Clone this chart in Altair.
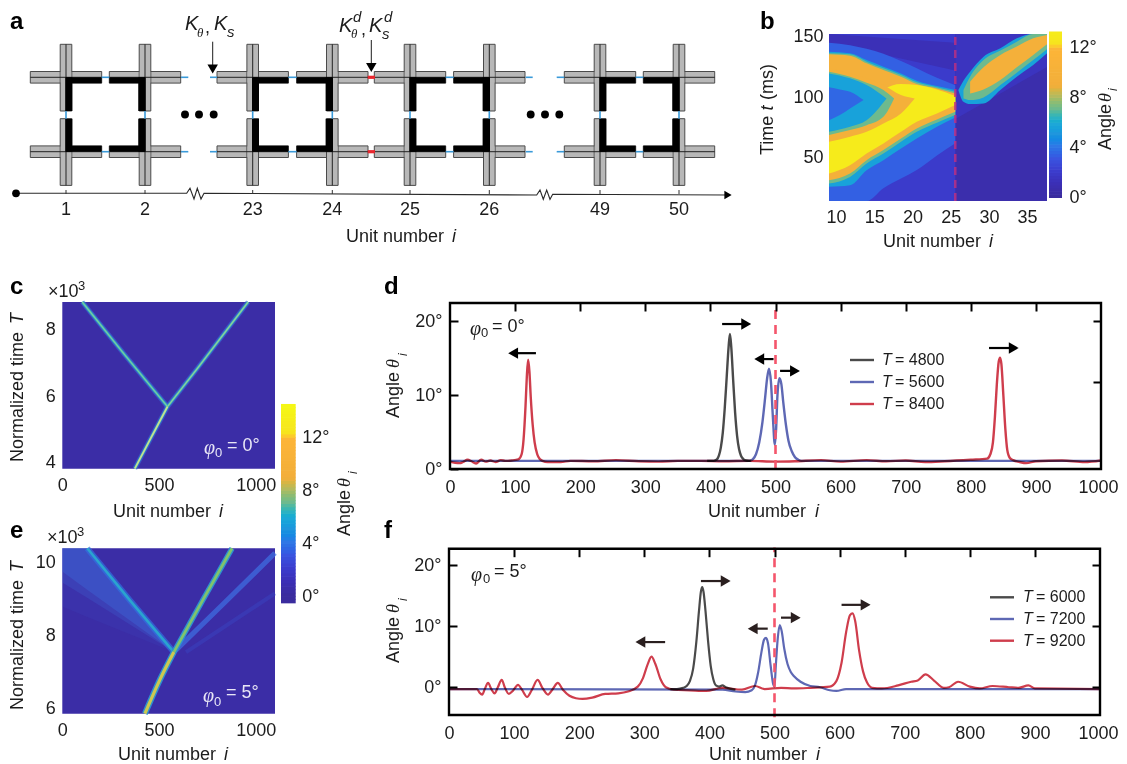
import altair as alt
import pandas as pd

W, H = 1111, 755
SANS = "Liberation Sans"
SERIF = "Liberation Serif"
INK = "#1c1c1c"

# ---------------- colour map ----------------
cmap_values = [0, 1, 2, 3, 4, 5, 5.8, 6.3, 7, 8, 8.8, 11.9, 12.1, 14]
cmap_colors = ["#3a2c9e", "#3b2fb5", "#3b3ccd", "#3a54e0", "#2f78e6", "#2096dd", "#1fa8d8",
               "#30b3c0", "#6dba8e", "#b4ba5e", "#f2ae3a", "#fdb538", "#f6e31f", "#f5f516"]
bar_b_levels = [x * 0.25 for x in range(0, 53)]
bar_c_levels = [x * 0.25 - 0.5 for x in range(0, 60)]

# ---------------- panel a ----------------
units = [1, 2, 23, 24, 25, 26, 49, 50]
unit_x = [66, 145, 252.7, 332.3, 410, 489.3, 600, 679]
row_y = [77.3, 151.7]
stub_x = [(181, 188.3), (210, 217), (525.7, 532.7), (556.7, 564.3)]
red_x = (367.7, 375)
dots_x = [185, 199, 213.7, 530.7, 545, 559.3]
dots_y = [114.5] * 6
axis_x = [16, 186.7, 190, 194, 197.3, 201, 204, 536.7, 540, 543.3, 546.7, 550, 552.7, 728]
axis_y = [193.3, 193.3, 188.3, 199, 188.3, 199, 193.3, 195, 190, 199.3, 190, 199.3, 194.3, 195]

# ---------------- panel b (contour bands) ----------------
b_i = [9.08, 11.83, 14, 16.2, 18.5, 20.56, 23.2, 25.6]
b_bands = [
    (b_i, [14.4, 14.4, 14.4, 25, 33, 40, 52, 62], [145, 143, 140, 136, 130, 124, 116, 110], 3.3),
    (b_i, [26.1, 27.4, 39.8, 48.1, 57.7, 66, 75.6, 83.4], [137.6, 136.3, 130.7, 125.2, 119.7, 113.7, 109.3, 106], 5.5),
    (b_i, [28.8, 34.3, 45.4, 53.6, 63.3, 71.5, 79, 85.3], [136.3, 135.4, 129.4, 123.9, 118.4, 112.3, 108.2, 104.6], 7),
    (b_i, [31.6, 37.1, 48.1, 56.4, 66, 74.3, 81.7, 88.1], [135.4, 134.3, 128, 122.5, 117, 110.9, 107.3, 103.2], 9.5),
    (b_i, [37.1, 44, 53.6, 61.9, 71.5, 79.8, 86.7, 93.6], [89.4, 89.4, 89.4, 106, 110.9, 110.1, 106.5, 101], 13),
    ([9.08, 11.83, 14, 16.2, 18.5, 20.3], [63.2, 67.4, 71.5, 78.4, 86.7, 99], [123.9, 119.7, 115.6, 110.1, 101.8, 99], 9.5),
    ([9.08, 11.83, 14, 16.2, 17.6], [68.8, 72.9, 77, 83.9, 99], [121.1, 117, 112, 106, 99], 7),
    ([9.08, 11.83, 14, 16.6], [71.5, 75.6, 81, 99], [119.7, 115.6, 110.1, 99], 5.5),
    ([9.08, 10.5, 11.83, 13.6], [81, 85.3, 90.8, 97.7], [108.2, 106.5, 104.6, 97.7], 3.5),
    ([26, 26.67, 27.54, 29.3, 31.5, 33.65, 35.8, 37.6], [106, 96.3, 94.4, 94.9, 106, 117, 126.6, 136.3],
     [106, 113.7, 121.1, 133.5, 140.4, 148.6, 152.2, 152.2], 5.5),
    ([26.67, 27.54, 29.3, 31.5, 33.65, 35.8, 37.6], [99, 97.7, 99.9, 110.1, 120.3, 130.7, 139.6],
     [106, 117, 130.7, 138.5, 145.9, 152.2, 152.2], 7),
    ([27.54, 29.3, 31.5, 33.65, 35.8, 37.6], [103.2, 106.5, 114.2, 124.7, 134.9, 143.7],
     [112.8, 124.7, 134.9, 141.8, 148.6, 151.4], 9.5),
]

# ---------------- panel c ----------------
c_low_i = [375, 453, 544]
c_low_T = [3.82, 4.69, 5.69]
c_left_i = [103, 320, 544]
c_left_T = [8.84, 7.27, 5.69]
c_right_i = [544, 700, 961]
c_right_T = [5.69, 6.85, 8.84]

# ---------------- panel e ----------------
e_low_i = [427, 505, 577]
e_low_T = [5.87, 6.8, 7.55]
e_left_i = [129, 350, 577]
e_left_T = [10.38, 8.96, 7.55]
e_right_i = [577, 730, 878]
e_right_T = [7.55, 9.0, 10.38]
e_fan_i = [577, 840, 1100]
e_fan_T = [7.55, 8.9, 10.25]
e_fan2_i = [640, 1100]
e_fan2_T = [7.55, 9.15]
e_wedge_i = [0, 129, 577]
e_wedge_hi = [10.38, 10.38, 7.55]
e_wedge_lo = [[8.79, 8.51, 7.55], [9.45, 9.03, 7.55], [9.75, 9.25, 7.55]]

# ---------------- panel d ----------------
d_black_i = [395, 405, 410, 413, 416, 419, 422, 425, 428, 430, 432, 435, 438, 441, 444, 447, 450, 455, 462]
d_black_v = [1.1, 1.1, 1.3, 1.8, 2.9, 4.9, 8.2, 12.4, 16.6, 18.3, 16.6, 12.0, 7.6, 4.5, 2.7, 1.8, 1.4, 1.15, 1.1]
d_blue_i = [0, 460, 465, 470, 475, 480, 484, 487, 490, 493, 496, 499, 501, 503, 506, 509, 512, 516, 520, 525, 530, 535, 540, 1000]
d_blue_v = [1.1, 1.1, 1.3, 2.0, 3.6, 6.4, 9.6, 12.2, 13.6, 11.8, 7, 3.3, 5.5, 10, 12.3, 11.5, 9, 6, 3.8, 2.4, 1.6, 1.25, 1.1, 1.1]
d_red_i = [0, 8, 15, 20, 27, 33, 40, 48, 55, 62, 70, 78, 85, 95, 105, 110, 113, 116, 118, 120, 122, 124, 127, 130, 134, 138, 142, 150,
           170, 185, 220, 255, 290, 320, 350, 385, 420, 460, 500, 530, 570, 600, 640, 670, 700, 730, 760, 800, 825, 830, 834, 837, 840,
           843, 845, 847, 850, 853, 856, 860, 865, 875, 885, 900, 940, 975, 1000]
d_red_v = [1.0, 0.85, 0.8, 0.95, 1.25, 1.05, 0.75, 1.25, 1.0, 1.15, 0.95, 1.2, 1.1, 1.15, 1.3, 2.0, 4.0, 8.5, 12.5, 14.8, 13.2, 9.8, 6, 3.6, 2.0, 1.35, 1.1, 0.95,
           0.95, 1.1, 1.05, 1.2, 1.05, 1.0, 1.1, 1.1, 1.05, 1.1, 1.0, 1.05, 1.2, 1.0, 1.2, 1.05, 1.15, 0.95, 1.05, 1.25, 1.4, 2.0, 3.6, 7, 11.5,
           14.6, 15.1, 14.2, 10, 5.5, 2.6, 1.5, 1.2, 0.95, 0.8, 1.05, 1.15, 0.95, 1.15]
d_arrows = [(418, 455, 19.65), (132, 97, 15.7), (497, 475, 14.9), (507, 530, 13.3), (828, 866, 16.4)]

# ---------------- panel f ----------------
f_black_i = [340, 350, 360, 365, 370, 375, 380, 384, 387, 389, 391, 394, 398, 402, 406, 410, 415, 420, 425, 440]
f_black_v = [-0.3, -0.3, -0.1, 0.2, 1, 3, 7.5, 12.5, 15.7, 16.4, 15.6, 12.5, 7.5, 3.5, 1.3, 0.3, 0.1, 0.3, 0, -0.4]
f_blue_i = [0, 420, 440, 455, 465, 470, 475, 480, 484, 487, 490, 494, 498, 500, 502, 505, 508, 511, 515, 520, 525, 530, 540, 555, 570, 585, 595, 610, 900, 1000]
f_blue_v = [-0.3, -0.4, -0.7, -0.8, -0.5, 0.3, 2.5, 5.8, 7.8, 8.1, 7.2, 3.6, 0.5, 0.1, 3.5, 8.0, 10.2, 9.2, 6.3, 3.8, 2.5, 1.8, 0.9, 0.2, 0, -0.5, -0.6, -0.3, -0.3, -0.3]
f_red_i = [0, 43, 47, 51, 55, 60, 65, 70, 75, 81, 86, 92, 98, 106, 112, 120, 127, 136, 144, 152, 160, 167, 175, 185, 195, 205, 220, 240, 260, 275,
           290, 298, 305, 311, 317, 325, 333, 345, 370, 395, 420, 450, 470, 485, 510, 530, 555, 585, 595, 603, 610, 616, 620, 624, 630, 636, 642, 650,
           665, 690, 710, 720, 732, 745, 760, 768, 782, 800, 815, 835, 860, 875, 890, 900, 1000]
f_red_v = [-0.3, -0.3, -0.9, -1.2, -0.3, 0.7, -0.3, -1.0, 0, 1.2, -0.1, -1.1, -0.6, 0.4, -0.4, -1.6, -0.5, 1.2, -0.2, -1.2, -0.2, 0.7, -0.4, -1.4, -1.8, -1.9, -1.7, -1.1, -1.0, -0.7,
           0.1, 1.5, 3.7, 5, 3.8, 1.3, 0, -0.4, -0.5, -0.6, -0.1, -0.4, 0.2, -0.3, -0.1, -0.2, -0.1, 0.1, 1, 4, 9, 11.8, 12.1, 10.8, 6, 2.6, 0.8, -0.1,
           -0.2, 0.3, 0.9, 1.1, 2.1, 1.1, -0.1, 0, 0.9, 0.1, -0.2, 0.2, 0, -0.1, 0.3, -0.2, -0.3]
f_arrows = [(387, 425, 17.4), (332, 294, 7.4), (489.6, 466.5, 9.6), (510, 532.6, 11.4), (603, 640, 13.5)]

# ---------------- scales, image pixel -> view pixel ----------------
def sc(dom, lo, hi):
    return alt.Scale(domain=dom, range=[lo - 8, hi - 8], nice=False, zero=False)

SCH = (sc([8, 1127], 8, 1127), sc([8, 764], 8, 764))
PB = (sc([9.08, 37.6], 829, 1047), sc([14.4, 152.2], 201, 34))
PC = (sc([0, 1100], 62.3, 275), sc([3.82, 8.84], 468.7, 302))
PE = (sc([0, 1100], 62.3, 275), sc([5.87, 10.38], 713.7, 548.3))
PD = (sc([0, 1000], 450, 1101), sc([0, 22.5], 469, 303))
PF = (sc([0, 1000], 449, 1100), sc([-4.55, 22.7], 715, 548.7))
CB = (sc([0, 1], 1049, 1062), sc([-0.16, 13.18], 200, 33))
CC = (sc([0, 1], 281, 295.7), sc([-0.55, 14.6], 604, 403.3))
COLOR = alt.Scale(domain=cmap_values, range=cmap_colors)

def enc(p, xax=None, yax=None):
    return dict(
        x=alt.X("x:Q", scale=p[0], axis=xax, title=None),
        y=alt.Y("y:Q", scale=p[1], axis=yax, title=None),
    )

def rect(p, x0, x1, y0, y1, **mk):
    d = pd.DataFrame({"x": x0, "x1": x1, "y": y0, "y1": y1})
    e = enc(p)
    return alt.Chart(d).mark_rect(**mk).encode(e["x"], e["y"], x2="x1:Q", y2="y1:Q")

def rule(p, x0, x1, y0, y1, **mk):
    d = pd.DataFrame({"x": x0, "x1": x1, "y": y0, "y1": y1})
    e = enc(p)
    return alt.Chart(d).mark_rule(**mk).encode(e["x"], e["y"], x2="x1:Q", y2="y1:Q")

def line(p, xs, ys, xax=None, yax=None, **mk):
    d = pd.DataFrame({"x": xs, "y": ys, "o": range(len(xs))})
    e = enc(p, xax, yax)
    return alt.Chart(d).mark_line(**mk).encode(e["x"], e["y"], order="o:Q")

def vband(p, xs, lo, hi, v):
    d = pd.DataFrame({"x": xs, "y": lo, "y1": hi, "v": [v] * len(xs)})
    e = enc(p)
    return alt.Chart(d).mark_area(interpolate="monotone").encode(
        e["x"], e["y"], y2="y1:Q", color=alt.Color("v:Q", scale=COLOR, legend=None))

def vrect(p, x0, x1, y0, y1, v):
    d = pd.DataFrame({"x": x0, "x1": x1, "y": y0, "y1": y1, "v": v})
    e = enc(p)
    return alt.Chart(d).mark_rect().encode(
        e["x"], e["y"], x2="x1:Q", y2="y1:Q", color=alt.Color("v:Q", scale=COLOR, legend=None))

def pts(p, xs, ys, shape="circle", size=60, color=INK):
    d = pd.DataFrame({"x": xs, "y": ys})
    e = enc(p)
    return alt.Chart(d).mark_point(shape=shape, size=size, filled=True, color=color, opacity=1).encode(e["x"], e["y"])

def txt(s, x, y, size=18, style="normal", weight="normal", font=SANS, color=INK, align="left", angle=0):
    return alt.Chart(pd.DataFrame({"t": [s]})).mark_text(
        align=align, baseline="middle", font=font, fontSize=size, fontStyle=style,
        fontWeight=weight, color=color, angle=angle,
    ).encode(text="t:N", x=alt.value(x - 8), y=alt.value(y - 8))

def ax(orient, px, values, labels=True, tick=0, pad=8, expr=None):
    if orient == "bottom":
        off = (px - 8) - H
    elif orient == "top":
        off = -(px - 8)
    elif orient == "left":
        off = -(px - 8)
    else:
        off = (px - 8) - W
    kw = {}
    if expr:
        kw["labelExpr"] = expr
    return alt.Axis(
        orient=orient, offset=off, values=values, labels=labels, ticks=tick > 0,
        tickSize=tick, tickWidth=2, tickColor="black", domain=False, grid=False, title=None,
        labelFont=SANS, labelFontSize=18, labelColor=INK, labelPadding=pad,
        labelFlush=False, labelOverlap=False, format="d", zindex=2, **kw,
    )

DEG = "datum.label + '°'"
L = []

# ================= panel a =================
L.append(txt("a", 10, 22, 24, weight="bold", color="black"))
hx0, hx1, hy0, hy1, vx0, vx1, vy0, vy1 = [], [], [], [], [], [], [], []
cx0, cx1, cy0, cy1 = [], [], [], []
for x in unit_x:
    for y in row_y:
        hx0.append(x - 35.7); hx1.append(x + 35.7); hy0.append(y - 5.8); hy1.append(y + 5.8)
        vx0.append(x - 5.8); vx1.append(x + 5.8); vy0.append(y - 33); vy1.append(y + 33.7)
        cx0.append(x - 5.3); cx1.append(x + 5.3); cy0.append(y - 5.3); cy1.append(y + 5.3)
GR = "#b8b8b8"
L.append(rect(SCH, hx0, hx1, hy0, hy1, color=GR, stroke="#4a4a4a", strokeWidth=1))
L.append(rect(SCH, vx0, vx1, vy0, vy1, color=GR, stroke="#4a4a4a", strokeWidth=1))
L.append(rect(SCH, cx0, cx1, cy0, cy1, color=GR))
L.append(rule(SCH, hx0, hx1, [(a + b) / 2 for a, b in zip(hy0, hy1)], [(a + b) / 2 for a, b in zip(hy0, hy1)], color="#222", strokeWidth=1))
L.append(rule(SCH, [(a + b) / 2 for a, b in zip(vx0, vx1)], [(a + b) / 2 for a, b in zip(vx0, vx1)], vy0, vy1, color="#222", strokeWidth=1))
bx0, bx1, by0, by1 = [], [], [], []
for k, x in enumerate(unit_x):
    sgn = 1 if k % 2 == 0 else -1
    for r, y in enumerate(row_y):
        a, b = (x, x + 35.7) if sgn > 0 else (x - 35.7, x)
        c, d = (y, y + 6) if r == 0 else (y - 6, y)
        bx0.append(a); bx1.append(b); by0.append(c); by1.append(d)
        a, b = (x - 0.7, x + 6.3) if sgn > 0 else (x - 6.7, x + 0.7)
        c, d = (y, y + 33.7) if r == 0 else (y - 33, y)
        bx0.append(a); bx1.append(b); by0.append(c); by1.append(d)
L.append(rect(SCH, bx0, bx1, by0, by1, color="black"))
sx0, sx1, sy0, sy1 = [], [], [], []
for k in range(0, 8, 2):
    for y in row_y:
        sx0.append(unit_x[k] + 35.7); sx1.append(unit_x[k + 1] - 35.7); sy0.append(y); sy1.append(y)
for a, b in stub_x:
    for y in row_y:
        sx0.append(a); sx1.append(b); sy0.append(y); sy1.append(y)
for x in unit_x:
    sx0.append(x); sx1.append(x); sy0.append(111); sy1.append(118.7)
L.append(rule(SCH, sx0, sx1, sy0, sy1, color="#3a9ad9", strokeWidth=1.6))
L.append(rule(SCH, [red_x[0]] * 2, [red_x[1]] * 2, row_y, row_y, color="#e8262e", strokeWidth=3.2))
L.append(pts(SCH, dots_x, dots_y, size=62, color="black"))
L.append(line(SCH, axis_x, axis_y, color="#2a2a2a", strokeWidth=1.1))
L.append(rule(SCH, unit_x, unit_x, [190] * 8, [194] * 8, color="#333", strokeWidth=1))
L.append(pts(SCH, [16], [193.3], size=60, color="black"))
L.append(pts(SCH, [728], [195], shape="triangle-right", size=70, color="black"))
ulab = pd.DataFrame({"x": unit_x, "y": [210] * 8, "t": [str(u) for u in units]})
_e = enc(SCH)
L.append(alt.Chart(ulab).mark_text(font=SANS, fontSize=18, color=INK, baseline="middle").encode(_e["x"], _e["y"], text="t:N"))
L.append(rule(SCH, [212.7], [212.7], [41.7], [70], color=INK, strokeWidth=1))
L.append(pts(SCH, [212.7], [69], shape="triangle-down", size=110, color="black"))
L.append(rule(SCH, [371.3], [371.3], [40], [68], color=INK, strokeWidth=1))
L.append(pts(SCH, [371.3], [67.5], shape="triangle-down", size=110, color="black"))
L += [txt("K", 185, 24, 20, "italic"), txt("θ", 197, 33, 13, "italic", font=SERIF), txt(",", 205, 28, 18),
      txt("K", 214, 24, 20, "italic"), txt("s", 227, 32, 15, "italic")]
L += [txt("K", 339, 26, 20, "italic"), txt("θ", 351, 34, 13, "italic", font=SERIF), txt("d", 353, 17, 15, "italic"),
      txt(",", 361, 30, 18), txt("K", 369, 26, 20, "italic"), txt("s", 382, 34, 15, "italic"), txt("d", 384, 17, 15, "italic")]
L += [txt("Unit number", 346, 237), txt("i", 452, 237, style="italic")]

# ================= panel b =================
L.append(txt("b", 760, 22, 24, weight="bold", color="black"))
L.append(vrect(PB, [9.08], [37.6], [14.4], [152.2], [0.6]))
L.append(vrect(PB, [9.08], [25.6], [14.4], [152.2], [1.9]))
L.append(vband(PB, [25.6, 37.6], [82, 125], [152.2, 152.2], 1.4))
L.append(vband(PB, [9.08, 25.6], [145, 122], [152.2, 145], 1.1))
for xs, lo, hi, v in b_bands:
    L.append(vband(PB, xs, lo, hi, v))
L.append(alt.Chart(pd.DataFrame({"x": [9.08, 37.6], "y": [14.4, 152.2]})).mark_point(opacity=0).encode(
    alt.X("x:Q", scale=PB[0], title=None, axis=ax("bottom", 201, [10, 15, 20, 25, 30, 35], pad=7)),
    alt.Y("y:Q", scale=PB[1], title=None, axis=ax("left", 829, [50, 100, 150], pad=6)),
))
L.append(rule(PB, [25.6], [25.6], [14.4], [152.2], color="#c23080", strokeWidth=2.5, strokeDash=[8, 5], opacity=0.8))
L.append(vrect(CB, [0] * len(bar_b_levels), [1] * len(bar_b_levels), bar_b_levels, [b + 0.3 for b in bar_b_levels], bar_b_levels))
L.append(alt.Chart(pd.DataFrame({"x": [0], "y": [0]})).mark_point(opacity=0).encode(
    alt.X("x:Q", scale=CB[0], title=None, axis=None),
    alt.Y("y:Q", scale=CB[1], title=None, axis=ax("right", 1062, [0, 4, 8, 12], pad=7, expr=DEG)),
))
L += [txt("Time", 768, 155, angle=270), txt("t", 768, 110.5, style="italic", angle=270), txt("(ms)", 768, 100, angle=270)]
L += [txt("Unit number", 883, 242), txt("i", 989, 242, style="italic")]
L += [txt("Angle", 1106, 150, angle=270), txt("θ", 1106, 102, 18, "italic", font=SERIF, angle=270), txt("i", 1113, 91, 12, "italic", angle=270)]

# ================= panel c =================
L.append(txt("c", 10, 287, 24, weight="bold", color="black"))
L.append(vrect(PC, [0], [1100], [3.82], [8.84], [0.35]))
for col, wd, op in [("#3a66d8", 5, 0.6), ("#2eaec0", 2.8, 0.9)]:
    L.append(line(PC, c_left_i, c_left_T, color=col, strokeWidth=wd, opacity=op))
    L.append(line(PC, c_right_i, c_right_T, color=col, strokeWidth=wd, opacity=op))
    L.append(line(PC, c_low_i, c_low_T, color=col, strokeWidth=wd, opacity=op, interpolate="monotone"))
L.append(line(PC, c_left_i, c_left_T, color="#78cca0", strokeWidth=1.2))
L.append(line(PC, c_right_i, c_right_T, color="#8cd09a", strokeWidth=1.4))
L.append(line(PC, c_low_i, c_low_T, color="#c4e090", strokeWidth=1.8, interpolate="monotone"))
L.append(alt.Chart(pd.DataFrame({"x": [0], "y": [4]})).mark_point(opacity=0).encode(
    alt.X("x:Q", scale=PC[0], title=None, axis=ax("bottom", 468.7, [0, 500, 1000], pad=8)),
    alt.Y("y:Q", scale=PC[1], title=None, axis=ax("left", 62.3, [4, 6, 8], pad=7)),
))
L += [txt("×10", 48, 292, 18), txt("3", 78, 286, 13)]
L += [txt("Normalized time", 18, 462, angle=270), txt("T", 18, 324, style="italic", angle=270)]
L += [txt("Unit number", 113, 512), txt("i", 219, 512, style="italic")]
WH = "#e8e6f6"
L += [txt("φ", 204, 448, 20, "italic", font=SERIF, color=WH), txt("0", 215, 453, 13, color=WH), txt("= 0°", 227, 446, 18, color=WH)]

# ================= colour bar c, e =================
L.append(vrect(CC, [0] * len(bar_c_levels), [1] * len(bar_c_levels), bar_c_levels, [b + 0.3 for b in bar_c_levels], [max(b, 0) for b in bar_c_levels]))
L.append(alt.Chart(pd.DataFrame({"x": [0], "y": [0]})).mark_point(opacity=0).encode(
    alt.X("x:Q", scale=CC[0], title=None, axis=None),
    alt.Y("y:Q", scale=CC[1], title=None, axis=ax("right", 295.7, [0, 4, 8, 12], pad=6, expr=DEG)),
))
L += [txt("Angle", 345, 536, angle=270), txt("θ", 345, 487, 18, "italic", font=SERIF, angle=270), txt("i", 353, 474, 12, "italic", angle=270)]

# ================= panel e =================
L.append(txt("e", 10, 531, 24, weight="bold", color="black"))
L.append(vrect(PE, [0], [1100], [5.87], [10.38], [0.35]))
for lo, op in zip(e_wedge_lo, [0.08, 0.2, 0.3]):
    L.append(alt.Chart(pd.DataFrame({"x": e_wedge_i, "y": lo, "y1": e_wedge_hi})).mark_area(color="#3f78e4", opacity=op).encode(
        alt.X("x:Q", scale=PE[0], title=None, axis=None), alt.Y("y:Q", scale=PE[1], title=None, axis=None), y2="y1:Q"))
L.append(line(PE, e_fan2_i, e_fan2_T, color="#3a48c8", strokeWidth=4, opacity=0.4))
L.append(line(PE, e_fan_i, e_fan_T, color="#3f70e4", strokeWidth=5, opacity=0.7))
L.append(line(PE, e_left_i, e_left_T, color="#3070e0", strokeWidth=6, opacity=0.7))
L.append(line(PE, e_left_i, e_left_T, color="#2aa4cf", strokeWidth=2.6))
L.append(line(PE, e_right_i, e_right_T, color="#2e90d0", strokeWidth=5.5))
L.append(line(PE, e_right_i, e_right_T, color="#80c46c", strokeWidth=2.8))
L.append(line(PE, e_low_i, e_low_T, color="#2e90d0", strokeWidth=6, interpolate="monotone"))
L.append(line(PE, e_low_i, e_low_T, color="#ccc850", strokeWidth=3.2, interpolate="monotone"))
L.append(alt.Chart(pd.DataFrame({"x": [0], "y": [6]})).mark_point(opacity=0).encode(
    alt.X("x:Q", scale=PE[0], title=None, axis=ax("bottom", 713.7, [0, 500, 1000], pad=8)),
    alt.Y("y:Q", scale=PE[1], title=None, axis=ax("left", 62.3, [6, 8, 10], pad=7)),
))
L += [txt("×10", 47, 538, 18), txt("3", 77, 532, 13)]
L += [txt("Normalized time", 18, 710, angle=270), txt("T", 18, 572, style="italic", angle=270)]
L += [txt("Unit number", 118, 755), txt("i", 224, 755, style="italic")]
L += [txt("φ", 203, 696, 20, "italic", font=SERIF, color=WH), txt("0", 214, 702, 13, color=WH), txt("= 5°", 226, 693, 18, color=WH)]

# ================= line panels =================
BLK, BLU, RED = "#4a4a4a", "#5e68b4", "#cf3d4c"

def arrows(p, items, color):
    out = []
    for a, b, y in items:
        out.append(rule(p, [a], [b], [y], [y], color=color, strokeWidth=2.2))
        out.append(pts(p, [b], [y], shape="triangle-right" if b > a else "triangle-left", size=130, color=color))
    return out

def line_panel(p, series, x0, x1, ytop, ybot, xlo, xhi, ylo, yhi, xvals, lefts, rights, arrow_items, acolor, dash_lo, dash_hi):
    out = []
    out.append(alt.Chart(pd.DataFrame({"x": [xlo], "y": [ylo]})).mark_point(opacity=0).encode(
        alt.X("x:Q", scale=p[0], title=None, axis=ax("bottom", ybot, xvals[:-1], pad=9)),
        alt.Y("y:Q", scale=p[1], title=None, axis=ax("left", x0 + 8, lefts, tick=8, pad=8, expr=DEG)),
    ))
    out.append(alt.Chart(pd.DataFrame({"x": [xlo], "y": [ylo]})).mark_point(opacity=0).encode(
        alt.X("x:Q", scale=p[0], title=None, axis=ax("top", ytop + 8, xvals[1:-1], labels=False, tick=8)),
        alt.Y("y:Q", scale=p[1], title=None, axis=ax("right", x1 - 8, rights, labels=False, tick=8)),
    ))
    for xs, ys, col, wd in series:
        out.append(line(p, xs, ys, color=col, strokeWidth=wd, blend="multiply", interpolate="monotone"))
    out.append(rule(p, [500], [500], [dash_lo], [dash_hi], color="#f4566c", strokeWidth=2.6, strokeDash=[9, 6]))
    out.append(rect(p, [xlo], [xhi], [ylo], [yhi], fillOpacity=0, stroke="black", strokeWidth=2.4))
    out += arrows(p, arrow_items, acolor)
    return out

xt = [0, 100, 200, 300, 400, 500, 600, 700, 800, 900, 1000]
L.append(txt("d", 384, 287, 24, weight="bold", color="black"))
L += line_panel(PD, [(d_black_i, d_black_v, BLK, 2.4), (d_blue_i, d_blue_v, BLU, 2.4), (d_red_i, d_red_v, RED, 2.4)],
                450, 1101, 303, 469, 0, 1000, 0, 22.5, xt, [0, 10, 20], [11.8, 20], d_arrows, "black", 0, 22.6)
L.append(txt("1000", 1118.5, 487.5, align="right"))
L += [txt("φ", 470, 329, 20, "italic", font=SERIF), txt("0", 481, 333, 13), txt("= 0°", 492, 327, 18)]
L += [txt("Angle", 394, 418, angle=270), txt("θ", 394, 368, 18, "italic", font=SERIF, angle=270), txt("i", 403, 356, 12, "italic", angle=270)]
L += [txt("Unit number", 708, 512), txt("i", 815, 512, style="italic")]
for y, col, s in zip([360, 382, 404], [BLK, BLU, RED], ["= 4800", "= 5600", "= 8400"]):
    L.append(alt.Chart(pd.DataFrame({"t": [s]})).mark_rule(color=col, strokeWidth=2.4).encode(
        x=alt.value(850 - 8), x2=alt.value(874 - 8), y=alt.value(y - 8)))
    L += [txt("T", 882, y, 16, "italic"), txt(s, 895, y, 16)]

L.append(txt("f", 384, 531, 24, weight="bold", color="black"))
L += line_panel(PF, [(f_black_i, f_black_v, BLK, 2.2), (f_blue_i, f_blue_v, BLU, 2.2), (f_red_i, f_red_v, RED, 2.2)],
                449, 1100, 548.7, 715, 0, 1000, -4.55, 22.7, xt, [0, 10, 20], [0, 10, 20], f_arrows, "#2a1f1f", -4.9, 22.9)
L.append(txt("1000", 1118.5, 733.5, align="right"))
L += [txt("φ", 471, 575, 20, "italic", font=SERIF), txt("0", 483, 579, 13), txt("= 5°", 494, 572, 18)]
L += [txt("Angle", 394, 663, angle=270), txt("θ", 394, 613, 18, "italic", font=SERIF, angle=270), txt("i", 403, 601, 12, "italic", angle=270)]
L += [txt("Unit number", 709, 755), txt("i", 816, 755, style="italic")]
for y, col, s in zip([597.3, 619, 640.7], [BLK, BLU, RED], ["= 6000", "= 7200", "= 9200"]):
    L.append(alt.Chart(pd.DataFrame({"t": [s]})).mark_rule(color=col, strokeWidth=2.4).encode(
        x=alt.value(990 - 8), x2=alt.value(1014 - 8), y=alt.value(y - 8)))
    L += [txt("T", 1023, y, 16, "italic"), txt(s, 1036, y, 16)]

chart = (
    alt.layer(*L)
    .resolve_scale(x="independent", y="independent", color="independent")
    .resolve_axis(x="independent", y="independent")
    .properties(width=W, height=H, padding=0, autosize=alt.AutoSizeParams(type="none"))
    .configure_view(stroke=None)
)
chart.save("out.html", embed_options={"renderer": "svg", "actions": False})
